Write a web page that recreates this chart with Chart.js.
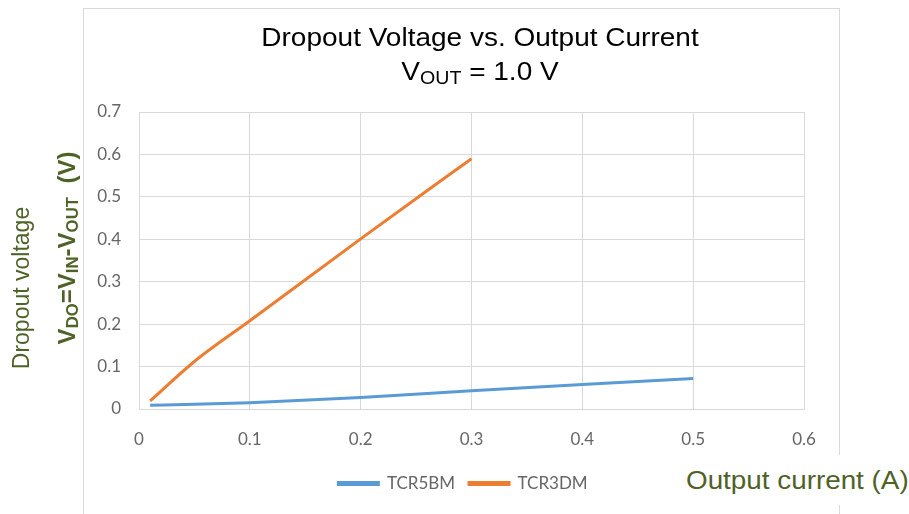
<!DOCTYPE html>
<html>
<head>
<meta charset="utf-8">
<script src="https://cdn.jsdelivr.net/npm/chart.js@4.4.1/dist/chart.umd.min.js"></script>
<style>
  body { margin: 0; background: #fff; }
  #wrap { position: relative; width: 909px; height: 514px; overflow: hidden; font-family: "Liberation Sans", Arial, sans-serif; }
  #frame { position: absolute; left: 83px; top: 8px; width: 757px; height: 540px; border: 1px solid #d9d9d9; box-sizing: border-box; }
  canvas { position: absolute; left: 0; top: 0; }
  .title { position: absolute; left: 480px; transform: translateX(-50%) scaleX(1.077); font-size: 26px; color: #000; white-space: nowrap; line-height: 30px; }
  .ylab { position: absolute; transform: translate(-50%, -50%) rotate(-90deg); color: #4f6228; white-space: nowrap; }
  #xlab { position: absolute; left: 668px; top: 455px; width: 241px; height: 50px; background: #fff; color: #4f6228; font-size: 26px; line-height: 50px; padding-left: 18px; box-sizing: border-box; white-space: nowrap; }
  #xlab span { display: inline-block; transform-origin: left center; transform: scaleX(1.07); }
  sub { font-size: 70%; vertical-align: -0.2em; line-height: 0; }
</style>
</head>
<body>
<div id="wrap">
  <div id="frame"></div>
  <canvas id="chart" width="909" height="514"></canvas>
  <div class="title" style="top:22px">Dropout Voltage vs. Output Current</div>
  <div class="title" style="top:56px">V<sub>OUT</sub> = 1.0 V</div>
  <div class="ylab" style="left:21px; top:288px; font-size:23px;">Dropout voltage</div>
  <div class="ylab" style="left:67px; top:248px; font-size:24px; font-weight:bold;">V<sub>DO</sub>=V<sub>IN</sub>-V<sub>OUT</sub>&nbsp; (V)</div>
  <div id="xlab"><span>Output current (A)</span></div>
</div>
<script>
const seriesNames = ["TCR5BM", "TCR3DM"];
const currentTCR5BM = [0.01, 0.05, 0.1, 0.2, 0.3, 0.4, 0.5];
const voltageTCR5BM = [0.009, 0.011, 0.015, 0.027, 0.043, 0.058, 0.072];
const currentTCR3DM = [0.01, 0.05, 0.1, 0.2, 0.3];
const voltageTCR3DM = [0.019, 0.112, 0.208, 0.401, 0.590];
const xTicks = [0, 0.1, 0.2, 0.3, 0.4, 0.5, 0.6];
const yTicks = [0, 0.1, 0.2, 0.3, 0.4, 0.5, 0.6, 0.7];

function toPoints(xs, ys) {
    return xs.map(function (x, i) { return { x: x, y: ys[i] }; });
}

const tickFont = { family: "Lato, 'Open Sans', sans-serif", size: 17 };

// legend sits centred under the plot area, not under the whole frame
const legendShift = {
    id: "legendShift",
    afterLayout: function (chart) {
        const lg = chart.legend;
        lg.left += 39;
        lg.right += 0;
    }
};

new Chart(document.getElementById("chart"), {
    type: "scatter",
    data: {
        datasets: [{
            label: seriesNames[0],
            data: toPoints(currentTCR5BM, voltageTCR5BM),
            borderColor: "#5b9bd5",
            backgroundColor: "#5b9bd5",
            borderWidth: 3,
            showLine: true,
            pointRadius: 0,
            cubicInterpolationMode: "monotone"
        }, {
            label: seriesNames[1],
            data: toPoints(currentTCR3DM, voltageTCR3DM),
            borderColor: "#ed7d31",
            backgroundColor: "#ed7d31",
            borderWidth: 3,
            showLine: true,
            pointRadius: 0,
            cubicInterpolationMode: "monotone"
        }]
    },
    options: {
        responsive: false,
        animation: false,
        layout: { padding: { left: 83, right: 105, top: 112, bottom: 12 } },
        plugins: {
            tooltip: { enabled: false },
            legend: {
                position: "bottom",
                labels: {
                    boxWidth: 40,
                    boxHeight: 2,
                    color: "#666",
                    font: tickFont,
                    padding: 14
                }
            }
        },
        scales: {
            x: {
                type: "linear",
                min: 0,
                max: 0.6,
                afterBuildTicks: function (s) { s.ticks = xTicks.map(function (v) { return { value: v }; }); },
                afterFit: function (s) { s.height = 52; },
                grid: { color: "#d9d9d9", drawTicks: false },
                border: { color: "#d9d9d9" },
                ticks: {
                    color: "#666",
                    padding: 20,
                    font: tickFont,
                    callback: function (v) { return String(v); }
                }
            },
            y: {
                min: 0,
                max: 0.7,
                afterBuildTicks: function (s) { s.ticks = yTicks.map(function (v) { return { value: v }; }); },
                afterFit: function (s) { s.width = 56; },
                grid: { color: "#d9d9d9", drawTicks: false },
                border: { color: "#d9d9d9" },
                ticks: {
                    color: "#666",
                    padding: 18,
                    font: tickFont,
                    callback: function (v) { return String(v); }
                }
            }
        }
    },
    plugins: [legendShift]
});
</script>
</body>
</html>
